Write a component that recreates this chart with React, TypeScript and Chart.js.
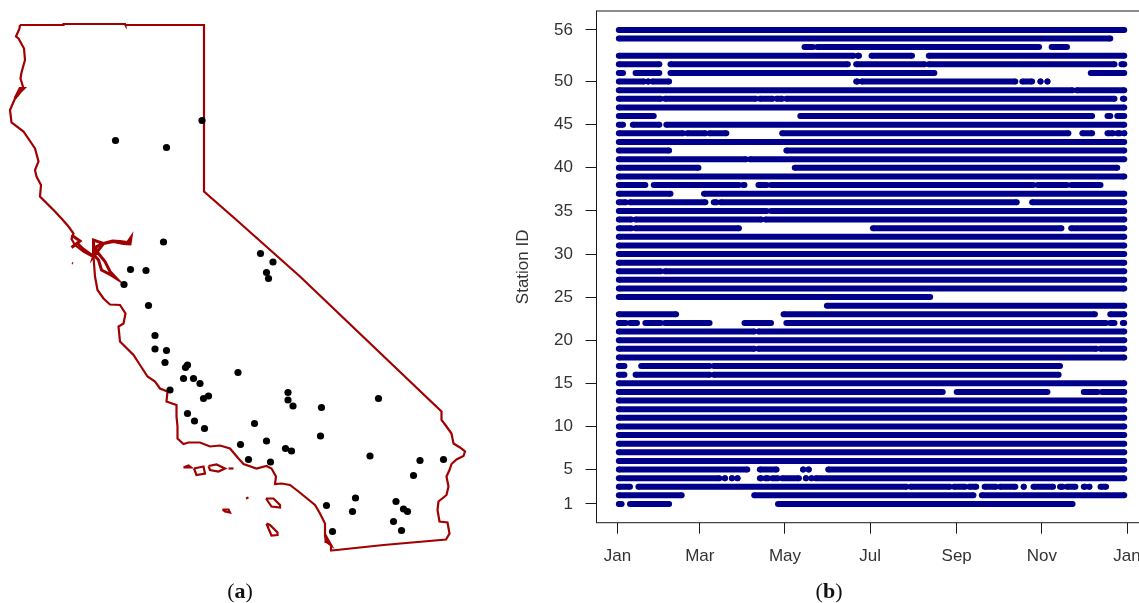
import React, { useEffect, useRef } from "react";
import { Chart, registerables } from "chart.js";

Chart.register(...registerables);

// ---------- Panel (a): projected map, km east / km south of a local origin ----------
const coast: number[][] = [
  [40,50],[126,50],[127,48],[250,48],[251,50],[408,50],[408,383],[473,440],[600,553],[796,740],[883,823],[883,840],[893,853],[903,867],[907,887],[920,895],[930,903],[927,912],[913,919],[903,928],[899,940],[893,953],[897,973],[893,990],[877,1003],[875,1020],[879,1043],[895,1045],[899,1067],[892,1079],[847,1083],[767,1090],[673,1100],[663,1101],[662,1090],[653,1083],[650,1070],[650,1047],[640,1027],[630,1010],[597,983],[580,970],[563,967],[550,968],[552,953],[543,937],[533,932],[513,937],[487,928],[477,917],[460,897],[440,891],[420,893],[400,885],[377,885],[367,888],[355,877],[355,853],[353,833],[353,810],[333,803],[335,783],[320,777],[310,763],[295,753],[280,730],[267,710],[247,690],[240,683],[237,653],[247,647],[251,627],[240,610],[220,609],[207,597],[195,580],[190,553],[187,513],[183,512],[167,503],[150,490],[143,478],[147,467],[137,453],[123,437],[110,423],[80,393],[82,370],[73,353],[70,340],[77,323],[70,297],[47,263],[23,245],[20,220],[30,197],[40,180],[47,177],[41,157],[43,145],[50,120],[48,97],[37,77],[32,73],[39,57],[40,50],
];
const pointReyes: number[][] = [[143,470],[150,475],[160,482],[143,495],[155,487],[165,497],[187,513]];
const northBay: number[][] = [[187,513],[187,480],[207,487],[193,493],[187,513],[207,487],[227,483],[247,487],[260,488],[262,475],[255,485],[240,483],[225,482],[207,487]];
const southBay: number[][] = [[187,507],[197,507],[210,523],[220,543],[233,557],[222,550],[203,540],[197,520],[190,512]];
const harbours: number[][][] = [
  [[30,197],[40,177],[47,177],[40,184],[33,193]],
  [[650,1070],[660,1088],[653,1083],[652,1072]],
];
const farallon: number[][] = [[144,526],[146,527]];
const islands: number[][][] = [
  [[367,935],[377,931],[382,935],[367,935]],
  [[388,937],[407,933],[410,947],[393,950],[388,937]],
  [[417,932],[433,929],[450,937],[437,943],[420,940],[417,932]],
  [[457,937],[467,937]],
  [[492,997],[497,995]],
  [[532,997],[547,997],[560,1010],[560,1015],[543,1013],[532,997]],
  [[445,1019],[457,1019],[460,1025],[450,1023],[445,1019]],
  [[533,1047],[540,1050],[555,1065],[555,1070],[543,1071],[537,1057],[533,1047]],
];
const stations: number[][] = [
  [404,241],[231,281],[333,295],[327,484],[261,539],[292,541],[248,569],[521,507],[546,524],[533,545],[537,557],[297,611],[310,671],[310,698],[333,701],[330,725],[375,730],[371,735],[367,757],[387,757],[400,767],[476,745],[417,792],[407,797],[340,780],[375,827],[389,842],[409,857],[509,847],[576,785],[576,800],[586,812],[533,882],[481,889],[571,897],[583,902],[643,815],[757,797],[641,872],[740,912],[840,921],[887,919],[827,951],[497,919],[541,924],[711,996],[653,1011],[705,1023],[792,1003],[807,1018],[815,1023],[787,1043],[803,1061],[665,1063],
];

// ---------- Panel (b): days of the year with data, per station ----------
const FULL = [[1, 363]];
const segments: Record<number, number[][]> = {
  56: FULL,
  55: [[1,353]],
  54: [[134,140],[143,302],[311,322]],
  53: [[1,169],[172,173],[182,211],[223,363]],
  52: [[1,30],[38,165],[171,220],[223,356],[361,363]],
  51: [[1,4],[13,30],[38,227],[339,363]],
  50: [[1,19],[22,22],[25,37],[171,172],[175,285],[290,297],[303,303],[308,308]],
  49: [[1,326],[329,363]],
  48: [[1,31],[34,99],[102,111],[114,118],[121,356],[362,363]],
  47: FULL,
  46: [[1,26],[131,340],[351,353],[358,363]],
  45: [[1,4],[11,30],[35,363]],
  44: [[1,47],[50,63],[66,78],[118,323],[333,340],[351,355],[358,360],[363,363]],
  43: FULL,
  42: [[1,37],[121,363]],
  41: [[1,92],[95,363]],
  40: [[1,58],[127,358]],
  39: FULL,
  38: [[1,20],[26,87],[90,91],[101,107],[110,298],[301,322],[325,346]],
  37: [[1,38],[62,363]],
  36: [[1,6],[9,63],[69,71],[74,286],[297,363]],
  35: [[1,107],[110,363]],
  34: [[1,10],[13,103],[106,363]],
  33: [[1,10],[13,87],[183,318],[325,363]],
  32: FULL, 31: FULL, 30: FULL, 29: FULL,
  28: [[1,31],[34,363]],
  27: FULL, 26: FULL,
  25: [[1,224]],
  24: [[150,363]],
  23: [[1,42],[119,342],[353,363]],
  22: [[1,6],[9,14],[20,31],[34,66],[91,110],[121,350],[353,356],[362,363]],
  21: [[1,98],[101,363]],
  20: FULL,
  19: [[1,98],[101,343],[346,363]],
  18: FULL,
  17: [[1,5],[17,66],[69,317]],
  16: [[1,5],[13,66],[69,316]],
  15: FULL,
  14: [[1,233],[243,308],[334,344],[347,363]],
  13: FULL, 12: FULL, 11: FULL, 10: FULL, 9: FULL, 8: FULL, 7: FULL, 6: FULL,
  5: [[1,93],[102,114],[133,133],[137,137],[151,363]],
  4: [[1,73],[77,77],[82,82],[86,86],[102,103],[106,108],[111,115],[118,130],[135,135],[139,139],[142,363]],
  3: [[1,9],[15,207],[210,238],[241,249],[252,257],[263,271],[274,285],[291,291],[298,312],[317,319],[322,328],[334,335],[338,338],[346,350]],
  2: [[1,46],[98,255],[261,363]],
  1: [[1,3],[9,37],[115,326]],
};
const monthTicks = [0, 59, 120, 181, 243, 304, 365];
const monthLabels = ["Jan", "Mar", "May", "Jul", "Sep", "Nov", "Jan"];
const stationTicks = [1, 5, 10, 15, 20, 25, 30, 35, 40, 45, 50, 56];

const RED = "#a00000";
const NAVY = "#00008b";
const AXIS_TEXT = "#333333";
const AXIS_LINE = "#1a1a1a";
const AXIS_FONT = { family: "'Liberation Sans', Arial, sans-serif", size: 17 };

const toPts = (a: number[][]) => a.map(([x, y]) => ({ x, y }));

export default function App() {
  const mapRef = useRef<HTMLCanvasElement>(null);
  const gridRef = useRef<HTMLCanvasElement>(null);

  useEffect(() => {
    const outline = (pts: number[][], borderWidth = 2.2) => ({
      type: "scatter" as const,
      data: toPts(pts),
      showLine: true,
      borderColor: RED,
      backgroundColor: RED,
      borderWidth,
      pointRadius: 0,
      order: 2,
    });
    const map = new Chart(mapRef.current!, {
      type: "scatter",
      data: {
        datasets: [
          outline(coast),
          outline(pointReyes, 3),
          outline(northBay, 3),
          outline(southBay, 3),
          ...harbours.map((h) => outline(h, 3)),
          outline(farallon),
          ...islands.map((i) => outline(i)),
          { data: toPts(stations), backgroundColor: "#000", borderWidth: 0, pointRadius: 3.6, order: 1 },
        ],
      },
      options: {
        animation: false,
        responsive: false,
        events: [],
        layout: { padding: 0, autoPadding: false },
        plugins: { legend: { display: false }, tooltip: { enabled: false } },
        scales: {
          x: { type: "linear", min: 0, max: 960, display: false },
          y: { type: "linear", min: 0, max: 1206, reverse: true, display: false },
        },
      },
    });

    const stationIds = Object.keys(segments).map(Number).sort((a, b) => a - b);
    const rows = stationIds.map((id) => {
      const data: { x: number; y: number }[] = [];
      segments[id].forEach(([s, e]) => {
        data.push({ x: s, y: id }, { x: e, y: id }, { x: NaN, y: NaN });
      });
      return {
        label: `Station ${id}`,
        data,
        showLine: true,
        spanGaps: false,
        borderColor: NAVY,
        backgroundColor: NAVY,
        borderWidth: 6,
        pointRadius: 3,
        pointBorderWidth: 0,
      };
    });
    const frame = {
      id: "frame",
      afterDraw(c: Chart) {
        const { left, top, right, bottom } = c.chartArea;
        const ctx = c.ctx;
        ctx.save();
        ctx.strokeStyle = AXIS_LINE;
        ctx.lineWidth = 1;
        ctx.strokeRect(left, top, right - left, bottom - top);
        ctx.restore();
      },
    };
    const grid = new Chart(gridRef.current!, {
      type: "scatter",
      data: { datasets: rows },
      plugins: [frame],
      options: {
        animation: false,
        responsive: false,
        events: [],
        layout: { padding: { left: 33.5, top: 11, right: 53, bottom: 0 }, autoPadding: false },
        plugins: { legend: { display: false }, tooltip: { enabled: false } },
        scales: {
          x: {
            type: "linear",
            min: -15,
            max: 379.3,
            afterBuildTicks: (s: any) => { s.ticks = monthTicks.map((value) => ({ value })); },
            afterFit: (s: any) => { s.height = 80.3; s.paddingLeft = 0; s.paddingRight = 0; },
            grid: { drawOnChartArea: false, drawTicks: true, tickLength: 11, color: AXIS_LINE, lineWidth: 1 },
            border: { display: false },
            ticks: {
              autoSkip: false,
              maxRotation: 0,
              minRotation: 0,
              padding: 12,
              color: AXIS_TEXT,
              font: AXIS_FONT,
              callback: (v: any) => monthLabels[monthTicks.indexOf(Number(v))] ?? "",
            },
          },
          y: {
            type: "linear",
            min: -1.17,
            max: 58.19,
            afterBuildTicks: (s: any) => { s.ticks = stationTicks.map((value) => ({ value })); },
            afterFit: (s: any) => { s.width = 83; s.paddingTop = 0; s.paddingBottom = 0; },
            grid: { drawOnChartArea: false, drawTicks: true, tickLength: 11, color: AXIS_LINE, lineWidth: 1 },
            border: { display: false },
            title: { display: true, text: "Station ID", color: AXIS_TEXT, font: AXIS_FONT, padding: 0 },
            ticks: {
              autoSkip: false,
              padding: 12.5,
              color: AXIS_TEXT,
              font: AXIS_FONT,
              callback: (v: any) => String(v),
            },
          },
        },
      },
    });
    return () => {
      map.destroy();
      grid.destroy();
    };
  }, []);

  const caption: React.CSSProperties = {
    position: "absolute",
    top: 578,
    transform: "translateX(-50%)",
    fontFamily: "'Liberation Serif', serif",
    fontSize: 22,
    lineHeight: "25px",
    color: "#111",
    whiteSpace: "nowrap",
  };
  return (
    <div style={{ position: "absolute", left: 0, top: 0, width: 1139, height: 603, overflow: "hidden", background: "#fff" }}>
      <canvas ref={mapRef} width={480} height={603} style={{ position: "absolute", left: 0, top: 0, width: 480, height: 603 }} />
      <canvas ref={gridRef} width={720} height={603} style={{ position: "absolute", left: 480, top: 0, width: 720, height: 603 }} />
      <div style={{ ...caption, left: 240 }}>(<b>a</b>)</div>
      <div style={{ ...caption, left: 829 }}>(<b>b</b>)</div>
    </div>
  );
}
